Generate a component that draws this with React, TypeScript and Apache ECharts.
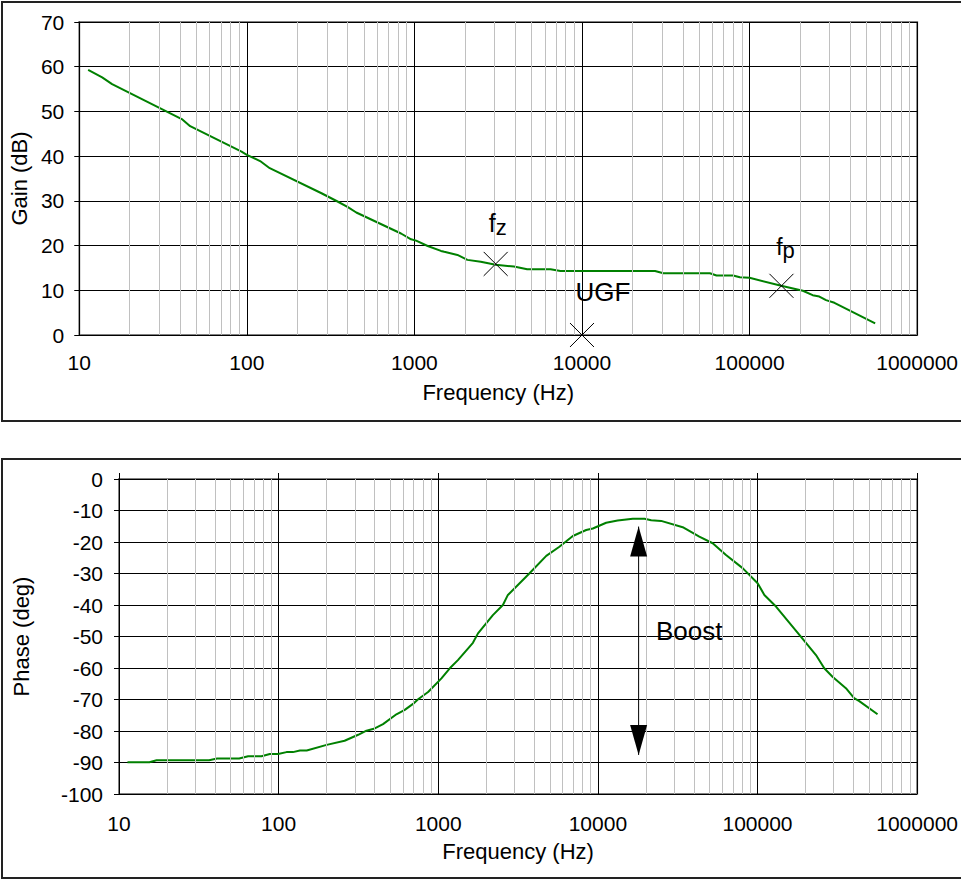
import React, { useEffect, useRef } from "react";
import * as echarts from "echarts";

// ---- Data ----
const gainFreq = [11.3, 13.7, 15.7, 40.9, 45.9, 93, 100, 120, 137, 279, 350, 401, 450, 832, 955, 1024, 1200, 1440, 1507, 1807, 2071, 2489, 3055, 3926, 4710, 6490, 7440, 27300, 30600, 58000, 63500, 79800, 87500, 100000, 154500, 208000, 238000, 261000, 286000, 321000, 562000];
const gainDb = [59.3, 57.6, 56.1, 48.3, 46.7, 41.0, 40.3, 38.9, 37.3, 31.7, 29.8, 28.6, 27.4, 22.7, 21.4, 21.1, 19.9, 18.8, 18.6, 17.9, 16.8, 16.4, 15.7, 15.3, 14.7, 14.7, 14.3, 14.3, 13.8, 13.8, 13.3, 13.3, 12.9, 12.8, 11.0, 9.9, 8.9, 8.6, 7.8, 7.2, 2.6];

const phaseFreq = [11.3, 15.5, 17.2, 36.7, 41.2, 56.6, 64.4, 78.1, 88.1, 99.3, 112, 123, 136, 150, 200, 259, 315, 355, 400, 451, 547, 617, 695, 748, 864, 1047, 1181, 1328, 1649, 1774, 2199, 2541, 2731, 3733, 4749, 5740, 6970, 8450, 9300, 11270, 13300, 16550, 19600, 21580, 24900, 34000, 43200, 52400, 63500, 80700, 100200, 110400, 130600, 183000, 232500, 262000, 295000, 358000, 403000, 434000, 565000];
const phaseDeg = [-89.9, -89.9, -89.3, -89.3, -88.7, -88.7, -88.0, -88.0, -87.3, -87.3, -86.7, -86.7, -86.2, -86.2, -84.4, -83.1, -81.2, -79.9, -79.2, -77.8, -74.7, -73.3, -71.4, -69.9, -67.6, -63.3, -60.1, -57.5, -52.0, -49.0, -43.2, -40.0, -36.8, -29.9, -24.4, -21.5, -18.1, -16.2, -15.7, -13.9, -13.2, -12.6, -12.6, -13.1, -13.3, -15.3, -18.3, -20.4, -24.1, -28.3, -33.1, -36.8, -40.5, -49.5, -55.9, -60.1, -62.8, -66.4, -69.6, -70.5, -74.7];

const markerNames = ["fz", "UGF", "fp"];
const markerFreq = [3055, 10000, 155000];
const markerGain = [15.9, 0, 11.0];

const boostFreq = 18000;
const boostTop = -15.1;
const boostBottom = -87.6;
const boostText = "Boost";

const gainTicks = [0, 10, 20, 30, 40, 50, 60, 70];
const phaseTicks = [-100, -90, -80, -70, -60, -50, -40, -30, -20, -10, 0];
const freqMin = 10;
const freqMax = 1000000;

// minor (2..9 per decade) grid positions
const minorFreqs: number[] = [];
for (let d = freqMin; d < freqMax; d *= 10) {
  for (let m = 2; m <= 9; m++) minorFreqs.push(d * m);
}

const FONT = '"Liberation Sans", Arial, Helvetica, sans-serif';
const GREEN = "#008000";
const TICK_FS = 21;
const NAME_FS = 22;

const markerLabelStyles: Record<string, any> = {
  fz: {
    formatter: "{a|f}{b|z}",
    offset: [2, -39],
    rich: {
      a: { fontSize: 25, lineHeight: 28, verticalAlign: "top", color: "#000", fontFamily: FONT },
      b: { fontSize: 22, lineHeight: 22, padding: [9, 0, 0, 0], verticalAlign: "bottom", color: "#000", fontFamily: FONT },
    },
  },
  UGF: {
    formatter: "UGF",
    offset: [21, -43],
    fontSize: 26,
    color: "#000",
    fontFamily: FONT,
  },
  fp: {
    formatter: "{a|f}{b|p}",
    offset: [4, -37],
    rich: {
      a: { fontSize: 23, lineHeight: 26, verticalAlign: "top", color: "#000", fontFamily: FONT },
      b: { fontSize: 22, lineHeight: 22, padding: [9, 0, 0, 0], verticalAlign: "bottom", color: "#000", fontFamily: FONT },
    },
  },
};

const fmtFreq = (v: number) => String(Math.round(v));

function minorGridSeries(xi: number, yi: number) {
  return {
    type: "line",
    xAxisIndex: xi,
    yAxisIndex: yi,
    data: [],
    z: 1,
    silent: true,
    markLine: {
      silent: true,
      symbol: ["none", "none"],
      label: { show: false },
      emphasis: { disabled: true },
      animation: false,
      lineStyle: { color: "#c0c0c0", width: 1, type: "solid", opacity: 1 },
      data: minorFreqs.map((f) => ({ xAxis: f })),
    },
  };
}

function bottomXAxis(gridIndex: number, labelMargin: number) {
  return {
    gridIndex,
    type: "log",
    logBase: 10,
    min: freqMin,
    max: freqMax,
    splitNumber: 5,
    name: "Frequency (Hz)",
    nameLocation: "middle",
    nameGap: 46,
    nameTextStyle: { fontSize: NAME_FS, color: "#000", fontFamily: FONT },
    axisLine: { show: gridIndex === 0, onZero: false, lineStyle: { color: "#000", width: 1 } },
    axisTick: { show: false },
    axisLabel: { fontSize: TICK_FS, color: "#000", margin: labelMargin, formatter: fmtFreq, fontFamily: FONT },
    splitLine: { show: true, lineStyle: { color: "#000", width: 1 } },
    minorTick: { show: false },
    minorSplitLine: { show: false },
  };
}

function yAxisDef(gridIndex: number, min: number, max: number, name: string, nameGap: number, margin: number) {
  return {
    gridIndex,
    type: "value",
    min,
    max,
    interval: 10,
    name,
    nameLocation: "middle",
    nameGap,
    nameRotate: 90,
    nameTextStyle: { fontSize: NAME_FS, color: "#000", fontFamily: FONT },
    axisLine: { show: true, onZero: false, lineStyle: { color: "#000", width: 1 } },
    axisTick: { show: true, length: 5, lineStyle: { color: "#000", width: 1 } },
    axisLabel: { fontSize: TICK_FS, color: "#000", margin, fontFamily: FONT },
    splitLine: { show: true, lineStyle: { color: "#000", width: 1 } },
  };
}

export default function App() {
  const ref = useRef<HTMLDivElement>(null);
  useEffect(() => {
    if (!ref.current) return;
    const chart = echarts.init(ref.current, null, { renderer: "svg" });
    const option: any = {
      animation: false,
      backgroundColor: "#fff",
      textStyle: { fontFamily: FONT },
      grid: [
        { left: 77, top: 22, width: 841, height: 313, show: true, borderColor: "#808080", borderWidth: 2, backgroundColor: "transparent" },
        { left: 119, top: 479, width: 799, height: 315, show: true, borderColor: "#808080", borderWidth: 2, backgroundColor: "transparent" },
      ],
      xAxis: [
        bottomXAxis(0, 17),
        bottomXAxis(1, 19),
        {
          gridIndex: 1,
          type: "log",
          logBase: 10,
          min: freqMin,
          max: freqMax,
          splitNumber: 5,
          position: "top",
          axisLine: { show: true, onZero: false, lineStyle: { color: "#000", width: 1 } },
          axisTick: { show: true, length: 6, inside: false, lineStyle: { color: "#000", width: 1 } },
          axisLabel: { show: false },
          splitLine: { show: false },
        },
      ],
      yAxis: [
        { ...yAxisDef(0, gainTicks[0], gainTicks[gainTicks.length - 1], "Gain (dB)", 45, 15) },
        { ...yAxisDef(1, phaseTicks[0], phaseTicks[phaseTicks.length - 1], "Phase (deg)", 87, 16) },
      ],
      graphic: [
        { type: "rect", shape: { x: 2, y: 2, width: 970, height: 419 }, style: { fill: "none", stroke: "#222", lineWidth: 2 }, silent: true, z: -10 },
        { type: "rect", shape: { x: 2, y: 459, width: 970, height: 419 }, style: { fill: "none", stroke: "#222", lineWidth: 2 }, silent: true, z: -10 },
        { type: "text", x: 656, y: 631, style: { text: boostText, fontSize: 26, fill: "#000", fontFamily: FONT, verticalAlign: "middle", align: "left" }, silent: true, z: 10 },
      ],
      series: [
        minorGridSeries(0, 0),
        minorGridSeries(1, 1),
        {
          type: "line",
          xAxisIndex: 0,
          yAxisIndex: 0,
          data: gainFreq.map((f, i) => [f, gainDb[i]]),
          showSymbol: false,
          symbol: "none",
          lineStyle: { color: GREEN, width: 2 },
          z: 3,
          silent: true,
        },
        {
          type: "line",
          xAxisIndex: 1,
          yAxisIndex: 1,
          data: phaseFreq.map((f, i) => [f, phaseDeg[i]]),
          showSymbol: false,
          symbol: "none",
          lineStyle: { color: GREEN, width: 2 },
          z: 3,
          silent: true,
        },
        {
          type: "scatter",
          xAxisIndex: 0,
          yAxisIndex: 0,
          clip: false,
          symbol: "path://M0 0L10 10M10 0L0 10",
          symbolSize: 24,
          itemStyle: { color: "transparent", borderColor: "#000", borderWidth: 1, opacity: 1 },
          emphasis: { disabled: true },
          silent: true,
          z: 5,
          data: markerNames.map((n, i) => ({
            name: n,
            value: [markerFreq[i], markerGain[i]],
            label: { show: true, position: "inside", opacity: 1, ...markerLabelStyles[n] },
          })),
        },
        {
          type: "line",
          xAxisIndex: 1,
          yAxisIndex: 1,
          data: [
            [boostFreq, boostTop],
            [boostFreq, boostBottom],
          ],
          showSymbol: false,
          symbol: "none",
          lineStyle: { color: "#000", width: 1 },
          z: 4,
          silent: true,
        },
        {
          type: "scatter",
          xAxisIndex: 1,
          yAxisIndex: 1,
          clip: false,
          symbol: "triangle",
          symbolSize: [17, 30],
          itemStyle: { color: "#000", opacity: 1 },
          emphasis: { disabled: true },
          silent: true,
          z: 5,
          data: [
            { value: [boostFreq, boostTop], symbolRotate: 0, symbolOffset: [0, 15] },
            { value: [boostFreq, boostBottom], symbolRotate: 180, symbolOffset: [0, -15] },
          ],
        },
      ],
    };
    chart.setOption(option);
    return () => chart.dispose();
  }, []);
  return (
    <div
      ref={ref}
      style={{ position: "absolute", left: 0, top: 0, width: 961, height: 880 }}
    />
  );
}
